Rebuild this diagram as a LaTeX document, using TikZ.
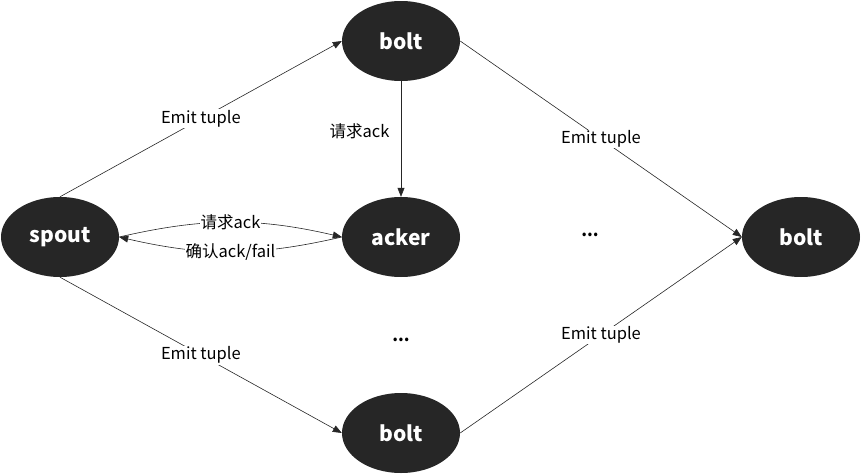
\documentclass[tikz,border=0pt]{standalone}
\usepackage{fontspec}
\setmainfont{Noto Sans CJK SC}
\usetikzlibrary{shapes.geometric,arrows.meta}
\definecolor{nodegray}{HTML}{262626}
\tikzset{
  comp/.style={ellipse, fill=nodegray, minimum width=118pt, minimum height=80pt,
    inner sep=0pt, text=white, font=\fontsize{21}{24}\selectfont\bfseries},
  flow/.style={->, draw=black!85, line width=0.6pt},
  lbl/.style={fill=white, inner sep=1pt, font=\fontsize{16.5}{18}\selectfont},
}
\begin{document}
\begin{tikzpicture}[>={Triangle[length=9pt,width=7pt]}, x=1pt, y=-1pt]
  \useasboundingbox (0,0) rectangle (863,474);
  % Компоненты
  \node[comp] (spout) at (60,237) {spout};
  \node[comp] (bolta) at (401,41) {bolt};
  \node[comp] (acker) at (401,237) {acker};
  \node[comp] (boltb) at (401,433) {bolt};
  \node[comp] (boltc) at (801,237) {bolt};
  \node[font=\fontsize{16.5}{18}\selectfont\bfseries] (dotsa) at (590,235) {...};
  \node[font=\fontsize{16.5}{18}\selectfont\bfseries] (dotsb) at (401,340) {...};

  % Потоки кортежей
  \draw[flow] (spout.north) -- node[lbl] {Emit tuple} (bolta.west);
  \draw[flow] (spout.south) -- node[lbl] {Emit tuple} (boltb.west);
  \draw[flow] (bolta.east) -- node[lbl] {Emit tuple} (boltc.west);
  \draw[flow] (boltb.east) -- node[lbl] {Emit tuple} (boltc.west);

  % Подтверждения
  \draw[flow] (bolta) -- node[pos=0.43, left=8pt, font=\fontsize{16.5}{18}\selectfont] {请求ack} (acker);
  \draw[flow] (spout.east) to[bend left=13] node[lbl] {请求ack} (acker.west);
  \draw[flow] (acker.west) to[bend left=13] node[lbl] {确认ack/fail} (spout.east);
\end{tikzpicture}
\end{document}
